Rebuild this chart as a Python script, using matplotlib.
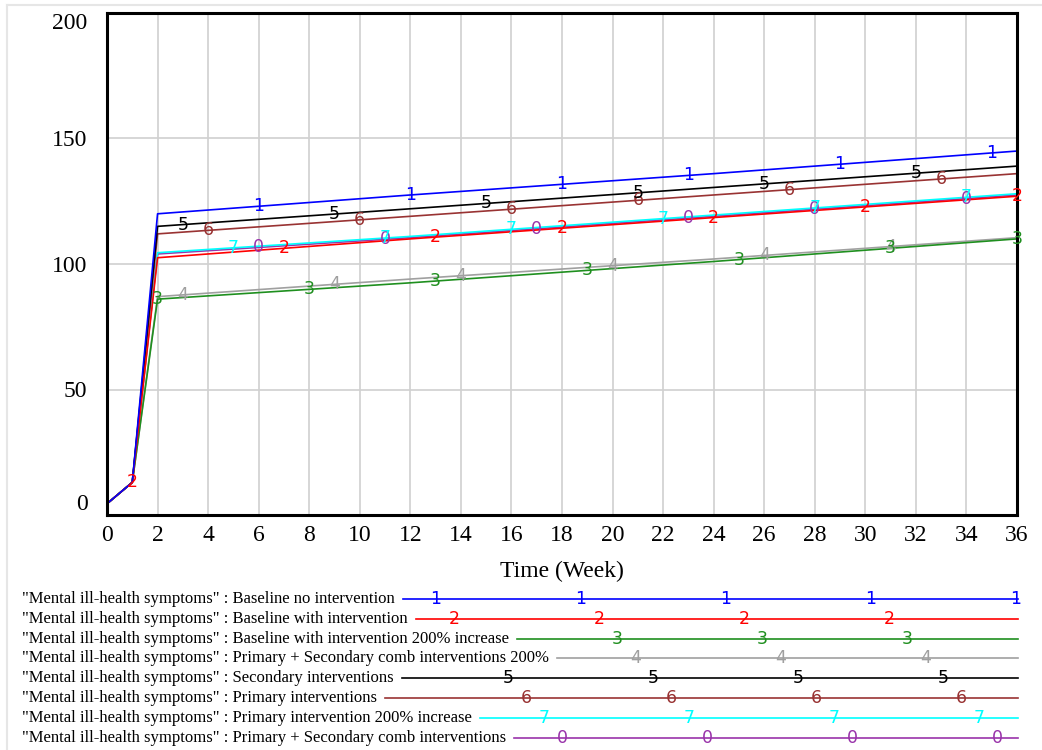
import numpy as np
import matplotlib.pyplot as plt
from matplotlib.lines import Line2D

# data (weeks vs. symptom level)
weeks = [0, 1, 2, 12, 24, 36]
baseline_no = [4.5, 13, 120, 127.5, 136, 145]
baseline_with = [4.5, 13, 102.5, 110, 118.5, 127]
baseline_200 = [4.5, 13, 86, 92.5, 101, 110]
comb_200 = [4.5, 13, 87, 94, 102, 110.5]
secondary = [4.5, 13, 115, 122, 130.5, 139]
primary = [4.5, 13, 112, 119, 127.5, 136]
primary_200 = [4.5, 13, 104.5, 111, 119.5, 128]
comb = [4.5, 13, 104, 110.5, 119, 127.5]

labels = [
    '"Mental ill-health symptoms" : Baseline no intervention',
    '"Mental ill-health symptoms" : Baseline with intervention',
    '"Mental ill-health symptoms" : Baseline with intervention 200% increase',
    '"Mental ill-health symptoms" : Primary + Secondary comb interventions 200%',
    '"Mental ill-health symptoms" : Secondary interventions',
    '"Mental ill-health symptoms" : Primary interventions',
    '"Mental ill-health symptoms" : Primary intervention 200% increase',
    '"Mental ill-health symptoms" : Primary + Secondary comb interventions',
]
marks = ['1', '2', '3', '4', '5', '6', '7', '0']
# weeks where each series carries its number label on the plot
mark_weeks = [
    [6, 12, 18, 23, 29, 35],
    [1, 7, 13, 18, 24, 30, 36],
    [2, 8, 13, 19, 25, 31, 36],
    [3, 9, 14, 20, 26, 31],
    [3, 9, 15, 21, 26, 32],
    [4, 10, 16, 21, 27, 33],
    [5, 11, 16, 22, 28, 34],
    [6, 11, 17, 23, 28, 34],
]

series = [baseline_no, baseline_with, baseline_200, comb_200,
          secondary, primary, primary_200, comb]
colors = ['#0000ff', '#ff0000', '#1f8f1f', '#a0a0a0',
          '#000000', '#993333', '#00ffff', '#9933aa']

W, H = 1042, 750
fig = plt.figure(figsize=(W / 100, H / 100), dpi=100)
ax = fig.add_axes([107 / W, 1 - 515 / H, 910 / W, 502 / H])

# draw last series first so series 1 ends up on top
for i in reversed(range(len(series))):
    ax.plot(weeks, series[i], color=colors[i], lw=1.2)
for i in reversed(range(len(series))):
    for wk in mark_weeks[i]:
        y = np.interp(wk, weeks, series[i])
        ax.text(wk, y, marks[i], color=colors[i], fontsize=12.5,
                ha='center', va='center', family='DejaVu Sans', clip_on=False)

ax.set_xlim(0, 36)
ax.set_ylim(0, 200)
ax.set_xticks(range(0, 37, 2))
ax.set_yticks([0, 50, 100, 150, 200])
ax.grid(True, color='#d0d0d0', lw=1.2)
ax.set_axisbelow(True)
for s in ax.spines.values():
    s.set_linewidth(2.2)
ax.tick_params(length=0, labelsize=17)
ax.tick_params(axis='x', pad=7)
ax.tick_params(axis='y', pad=14)
for lab in ax.get_xticklabels() + ax.get_yticklabels():
    lab.set_family('Liberation Serif')
yt = ax.yaxis.get_major_ticks()
yt[0].label1.set_va('bottom')
yt[-1].label1.set_va('top')

fig.text(562 / W, 1 - 571 / H, 'Time (Week)', ha='center', va='center',
         fontsize=17, family='Liberation Serif')

# legend block under the plot
texts = []
for i, lab in enumerate(labels):
    y = 1 - (599 + 19.8 * i) / H
    t = fig.text(22 / W, y, lab, fontsize=12, family='Liberation Serif', va='center')
    texts.append((t, y))
fig.canvas.draw()
for i, (t, y) in enumerate(texts):
    x_end = t.get_window_extent().x1
    x0 = x_end + 8
    fig.add_artist(Line2D([x0 / W, 1018 / W], [y, y], color=colors[i], lw=1.2))
    for j in range(6):
        xm = 436 + 18.1 * i + 145 * j
        if xm > x0 + 10 and xm <= 1020:
            fig.text(xm / W, y, marks[i], color=colors[i], fontsize=12.5,
                     ha='center', va='center', family='DejaVu Sans')

# faint outer frame
fig.add_artist(Line2D([7 / W, 7 / W], [0, 1 - 5 / H], color='#e6e6e6', lw=1.5))
fig.add_artist(Line2D([7 / W, 1], [1 - 5 / H, 1 - 5 / H], color='#e6e6e6', lw=1.5))

fig.savefig('out.png', dpi=100)
